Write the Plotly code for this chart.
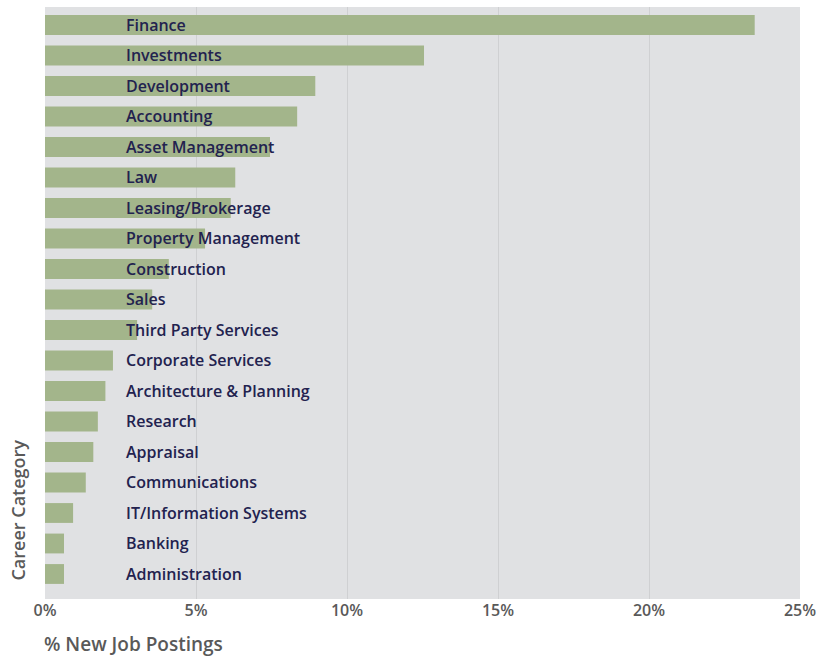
import plotly.graph_objects as go

categories = ["Finance", "Investments", "Development", "Accounting", "Asset Management",
              "Law", "Leasing/Brokerage", "Property Management", "Construction", "Sales",
              "Third Party Services", "Corporate Services", "Architecture & Planning",
              "Research", "Appraisal", "Communications", "IT/Information Systems",
              "Banking", "Administration"]
share = [23.5, 12.55, 8.95, 8.35, 7.45, 6.3, 6.15, 5.3, 4.1, 3.55,
         3.05, 2.25, 2.0, 1.75, 1.6, 1.35, 0.93, 0.63, 0.63]
tick_vals = [0, 5, 10, 15, 20, 25]
tick_text = ["0%", "5%", "10%", "15%", "20%", "25%"]

LABEL_X = 2.62
NAVY = "#22224f"
GREY = "#595959"

fig = go.Figure()
fig.add_trace(go.Bar(
    x=share, y=categories, orientation="h",
    marker=dict(color="#a3b58b", line=dict(width=0)),
    width=0.65, hoverinfo="x+y",
))

# category labels sit inside the plot
for cat in categories:
    fig.add_annotation(x=LABEL_X, y=cat, xref="x", yref="y", text=cat,
                       showarrow=False, xanchor="left", yanchor="middle",
                       font=dict(family="Open Sans", size=16, color=NAVY, weight=600))

fig.add_annotation(x=-0.037, y=0.027, xref="paper", yref="paper", text="Career Category",
                   showarrow=False, textangle=-90, xanchor="center", yanchor="bottom",
                   font=dict(family="Open Sans", size=18, color=GREY, weight=600))
fig.add_annotation(x=-0.004, y=-0.05, xref="paper", yref="paper", text="% New Job Postings",
                   showarrow=False, xanchor="left", yanchor="top",
                   font=dict(family="Open Sans", size=19, color=GREY, weight=600))

fig.update_xaxes(range=[0, 25], tickvals=tick_vals, ticktext=tick_text,
                 showgrid=True, gridcolor="#cfd0d2", gridwidth=1, zeroline=False,
                 tickfont=dict(family="Open Sans", size=16, color=GREY, weight=600),
                 ticks="", fixedrange=True, automargin=False, ticklabeloverflow="allow")
fig.update_yaxes(showticklabels=False, showgrid=False, automargin=False,
                 zeroline=False, ticks="", range=[18.82, -0.59])

fig.update_layout(
    width=816, height=656,
    margin=dict(l=45, r=16, t=7, b=57, autoexpand=False),
    plot_bgcolor="#e0e1e3", paper_bgcolor="white",
    showlegend=False,
)

# drop the browser's default body margin so the figure sits at the page corner
fig.write_html("out.html", config={"displayModeBar": False},
               post_script="document.body.style.margin='0';")
